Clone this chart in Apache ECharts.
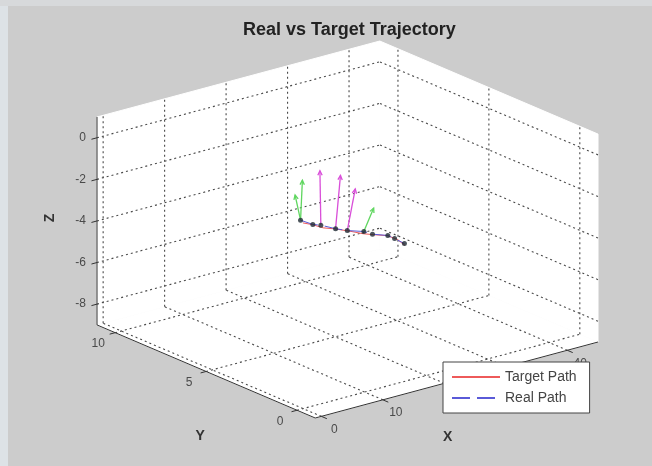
<!DOCTYPE html>
<html>
<head>
<meta charset="utf-8">
<script src="https://cdn.jsdelivr.net/npm/echarts@6/dist/echarts.min.js"></script>
<style>
  html, body { margin: 0; padding: 0; background: #cccccc; }
  #chart { width: 652px; height: 466px; }
</style>
</head>
<body>
<div id="chart"></div>
<script>
// ---- axis limits and ticks ----
const xLim = [-1, 45];
const yLim = [-1, 11];
const zLim = [-9, 1];
const xTicks = [0, 10, 20, 30, 40];
const yTicks = [0, 5, 10];
const zTicks = [-8, -6, -4, -2, 0];

// ---- trajectories (x, y, z) ----
const targetX = [11.8, 13.3, 15.1, 17.0, 19.4, 21.6, 23.5, 25.5, 27.1, 28.4];
const targetY = [4.0, 4.0, 4.0, 4.0, 4.0, 4.0, 4.0, 4.0, 4.0, 4.0];
const targetZ = [-2.5, -2.7, -3.0, -3.2, -3.5, -3.8, -4.0, -4.2, -4.5, -4.9];

const realX = [11.7, 13.4, 15.0, 17.1, 19.3, 21.7, 23.4, 25.6, 27.0, 28.3];
const realY = [4.1, 4.0, 4.1, 4.0, 4.1, 4.0, 4.1, 4.0, 4.1, 4.0];
const realZ = [-2.4, -2.7, -2.9, -3.2, -3.5, -3.7, -4.0, -4.2, -4.5, -4.8];

// ---- orientation arrows: start sample on the real path + direction ----
const greenBase = [0, 0, 5];
const greenDX = [0.3, 0.0, 1.6];
const greenDY = [0.0, 0.3, 0.0];
const greenDZ = [1.9, 1.1, 1.0];

const magentaBase = [2, 3, 4];
const magentaDX = [0.0, 0.8, 1.3];
const magentaDY = [0.05, 0.0, 0.0];
const magentaDZ = [2.6, 2.5, 1.9];

// ---- 3-D view (azimuth / elevation in degrees, plot box aspect) ----
const VIEW = { az: -38.44, el: 19.79, box: [361, 351, 221] };

function project(x, y, z) {
  const a = VIEW.az * Math.PI / 180, e = VIEW.el * Math.PI / 180;
  const nx = (x - xLim[0]) / (xLim[1] - xLim[0]) * VIEW.box[0];
  const ny = (y - yLim[0]) / (yLim[1] - yLim[0]) * VIEW.box[1];
  const nz = (z - zLim[0]) / (zLim[1] - zLim[0]) * VIEW.box[2];
  return [
    nx * Math.cos(a) + ny * Math.sin(a),
    -nx * Math.sin(a) * Math.sin(e) + ny * Math.cos(a) * Math.sin(e) + nz * Math.cos(e)
  ];
}

// extent of the projected plot box -> 2-D axis ranges
let uMin = Infinity, uMax = -Infinity, vMin = Infinity, vMax = -Infinity;
[xLim[0], xLim[1]].forEach(x => [yLim[0], yLim[1]].forEach(y => [zLim[0], zLim[1]].forEach(z => {
  const p = project(x, y, z);
  uMin = Math.min(uMin, p[0]); uMax = Math.max(uMax, p[0]);
  vMin = Math.min(vMin, p[1]); vMax = Math.max(vMax, p[1]);
})));

// ---- back walls and floor ----
const X0 = xLim[0], X1 = xLim[1], Y0 = yLim[0], Y1 = yLim[1], Z0 = zLim[0], Z1 = zLim[1];
const walls = [
  [X0, Y1, Z0, X1, Y1, Z0, X1, Y1, Z1, X0, Y1, Z1],   // y = max wall
  [X1, Y0, Z0, X1, Y1, Z0, X1, Y1, Z1, X1, Y0, Z1],   // x = max wall
  [X0, Y0, Z0, X1, Y0, Z0, X1, Y1, Z0, X0, Y1, Z0]    // floor
];

// ---- dotted grid lines ----
const gridSegs = [];
xTicks.forEach(t => { gridSegs.push([t, Y1, Z0, t, Y1, Z1]); gridSegs.push([t, Y0, Z0, t, Y1, Z0]); });
yTicks.forEach(t => { gridSegs.push([X1, t, Z0, X1, t, Z1]); gridSegs.push([X0, t, Z0, X1, t, Z0]); });
zTicks.forEach(t => { gridSegs.push([X0, Y1, t, X1, Y1, t]); gridSegs.push([X1, Y0, t, X1, Y1, t]); });

// ---- axis lines and tick marks ----
const axisSegs = [
  [X0, Y0, Z0, X1, Y0, Z0],
  [X0, Y0, Z0, X0, Y1, Z0],
  [X0, Y1, Z0, X0, Y1, Z1]
];
xTicks.forEach(t => axisSegs.push([t, Y0, Z0, t, Y0 - 0.3, Z0]));
yTicks.forEach(t => axisSegs.push([X0, t, Z0, X0 - 0.9, t, Z0]));
zTicks.forEach(t => axisSegs.push([X0, Y1, t, X0 - 0.9, Y1, t]));

// ---- tick labels ----
const tickLabels = [];
xTicks.forEach(t => tickLabels.push({ p: [t, Y0, Z0], text: String(t), dx: 13, dy: 13, align: 'center' }));
yTicks.forEach(t => tickLabels.push({ p: [X0, t, Z0], text: String(t), dx: -17, dy: 11, align: 'center' }));
zTicks.forEach(t => tickLabels.push({ p: [X0, Y1, t], text: String(t), dx: -11, dy: 0, align: 'right' }));

const axisNames = [
  { p: [22, Y0, Z0], text: 'X', dx: -9, dy: 57, rot: 0 },
  { p: [X0, 5, Z0], text: 'Y', dx: -6, dy: 65, rot: 0 },
  { p: [X0, Y1, -4], text: 'Z', dx: -47, dy: -3, rot: Math.PI / 2 }
];

function pt(api, x, y, z) { return api.coord(project(x, y, z)); }

const targetData = targetX.map((x, i) => project(x, targetY[i], targetZ[i]));
const realData = realX.map((x, i) => project(x, realY[i], realZ[i]));

function arrowItems(base, dx, dy, dz) {
  return base.map((b, i) => [realX[b], realY[b], realZ[b], realX[b] + dx[i], realY[b] + dy[i], realZ[b] + dz[i]]);
}

function arrowRender(color) {
  return function (params, api) {
    const a = pt(api, api.value(0), api.value(1), api.value(2));
    const b = pt(api, api.value(3), api.value(4), api.value(5));
    const ang = Math.atan2(b[1] - a[1], b[0] - a[0]);
    const hl = 5, hw = 0.45;
    const l = [b[0] - hl * Math.cos(ang - hw), b[1] - hl * Math.sin(ang - hw)];
    const r = [b[0] - hl * Math.cos(ang + hw), b[1] - hl * Math.sin(ang + hw)];
    return {
      type: 'group',
      children: [
        { type: 'line', shape: { x1: a[0], y1: a[1], x2: b[0], y2: b[1] }, style: { stroke: color, lineWidth: 1.3 } },
        { type: 'polyline', shape: { points: [l, b, r] }, style: { stroke: color, lineWidth: 1.3, fill: null } }
      ]
    };
  };
}

const chart = echarts.init(document.getElementById('chart'), null, { renderer: 'canvas' });

chart.setOption({
  backgroundColor: '#cccccc',
  animation: false,
  title: {
    text: 'Real vs Target Trajectory',
    left: 238, top: 16,
    textStyle: { fontFamily: 'Liberation Sans', fontSize: 18, fontWeight: 'bold', color: '#222' }
  },
  legend: {
    data: ['Target Path', 'Real Path'],
    orient: 'vertical',
    left: 443, top: 362,
    backgroundColor: '#ffffff',
    borderColor: '#444',
    borderWidth: 1,
    borderRadius: 0,
    padding: [8, 13, 8, 8],
    itemWidth: 48, itemHeight: 10, itemGap: 7,
    itemStyle: { opacity: 0 },
    textStyle: { fontFamily: 'Liberation Sans', fontSize: 14, color: '#444' }
  },
  grid: { left: 97, top: 41, width: 501, height: 377, containLabel: false },
  xAxis: { type: 'value', min: uMin, max: uMax, show: false },
  yAxis: { type: 'value', min: vMin, max: vMax, show: false },
  graphic: [
    { type: 'rect', left: 0, top: 0, shape: { width: 8, height: 466 }, style: { fill: '#dde2e6' }, z: -10 },
    { type: 'rect', left: 0, top: 0, shape: { width: 652, height: 6 }, style: { fill: '#d7d9db' }, z: -10 }
  ],
  series: [
    {
      type: 'custom', name: 'walls', silent: true, clip: false, z: 1,
      data: walls,
      renderItem: function (params, api) {
        const pts = [];
        for (let i = 0; i < 4; i++) pts.push(pt(api, api.value(3 * i), api.value(3 * i + 1), api.value(3 * i + 2)));
        return { type: 'polygon', shape: { points: pts }, style: { fill: '#ffffff', stroke: '#ffffff', lineWidth: 1 } };
      }
    },
    {
      type: 'custom', name: 'grid', silent: true, clip: false, z: 2,
      data: gridSegs,
      renderItem: function (params, api) {
        const a = pt(api, api.value(0), api.value(1), api.value(2));
        const b = pt(api, api.value(3), api.value(4), api.value(5));
        return { type: 'line', shape: { x1: a[0], y1: a[1], x2: b[0], y2: b[1] },
          style: { stroke: '#4a4a4a', lineWidth: 1.1, lineDash: [2, 3] } };
      }
    },
    {
      type: 'custom', name: 'axes', silent: true, clip: false, z: 3,
      data: axisSegs,
      renderItem: function (params, api) {
        const a = pt(api, api.value(0), api.value(1), api.value(2));
        const b = pt(api, api.value(3), api.value(4), api.value(5));
        return { type: 'line', shape: { x1: a[0], y1: a[1], x2: b[0], y2: b[1] },
          style: { stroke: '#333', lineWidth: 1 } };
      }
    },
    {
      type: 'custom', name: 'tickLabels', silent: true, clip: false, z: 3,
      data: tickLabels.map(d => d.p),
      renderItem: function (params, api) {
        const d = tickLabels[params.dataIndex];
        const c = pt(api, api.value(0), api.value(1), api.value(2));
        return { type: 'text', x: c[0] + d.dx, y: c[1] + d.dy,
          style: { text: d.text, align: d.align, verticalAlign: 'middle',
            font: '12px "Liberation Sans"', fill: '#4a4a4a' } };
      }
    },
    {
      type: 'custom', name: 'axisNames', silent: true, clip: false, z: 3,
      data: axisNames.map(d => d.p),
      renderItem: function (params, api) {
        const d = axisNames[params.dataIndex];
        const c = pt(api, api.value(0), api.value(1), api.value(2));
        return { type: 'text', x: c[0] + d.dx, y: c[1] + d.dy, rotation: d.rot,
          style: { text: d.text, align: 'center', verticalAlign: 'middle',
            font: 'bold 14px "Liberation Sans"', fill: '#333' } };
      }
    },
    {
      type: 'custom', name: 'greenArrows', silent: true, clip: false, z: 4,
      data: arrowItems(greenBase, greenDX, greenDY, greenDZ),
      renderItem: arrowRender('#5fd65f')
    },
    {
      type: 'custom', name: 'magentaArrows', silent: true, clip: false, z: 4,
      data: arrowItems(magentaBase, magentaDX, magentaDY, magentaDZ),
      renderItem: arrowRender('#d94fd9')
    },
    {
      type: 'line', name: 'Target Path', data: targetData, symbol: 'none', z: 5,
      lineStyle: { color: '#ee5a5a', width: 1 }, itemStyle: { color: '#ee5a5a' }
    },
    {
      type: 'line', name: 'Real Path', data: realData, symbol: 'none', z: 6,
      lineStyle: { color: '#5a5ad8', width: 1, type: [18, 7] }, itemStyle: { color: '#5a5ad8' }
    },
    {
      type: 'scatter', name: 'samples', data: realData, symbolSize: 5, z: 7,
      itemStyle: { color: '#1f2a33' }
    }
  ]
});
</script>
</body>
</html>
